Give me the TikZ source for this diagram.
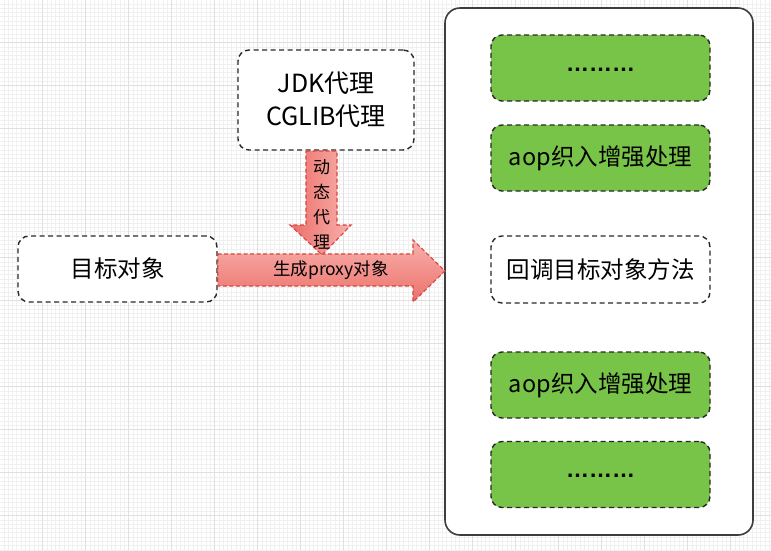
\documentclass[tikz,border=0pt]{standalone}
\usepackage{fontspec}
\setmainfont{Noto Sans CJK SC}
\newfontfamily\latinfont{Liberation Sans}
\definecolor{gridminor}{RGB}{240,240,240}
\definecolor{gridmajor}{RGB}{224,224,224}
\definecolor{boxline}{RGB}{40,40,40}
\definecolor{greenfill}{RGB}{120,196,72}
\definecolor{arrowline}{RGB}{214,70,64}
\definecolor{arrowdark}{RGB}{236,112,106}
\definecolor{arrowlight}{RGB}{248,176,172}
\tikzset{
  dbox/.style={draw=boxline, line width=1.4pt, dash pattern=on 5pt off 3.5pt, rounded corners=11pt, align=center, inner sep=0pt},
  gbox/.style={dbox, fill=greenfill, minimum width=219pt, minimum height=66pt},
  wbox/.style={dbox, fill=white},
  arrowshape/.style={draw=arrowline, line width=1.1pt, dash pattern=on 4pt off 2.5pt, line join=miter},
  lbl/.style={font=\fontsize{17.5pt}{21pt}\selectfont, inner sep=0pt},
  big/.style={font=\fontsize{25pt}{33pt}\selectfont},
  mid/.style={font=\fontsize{23.5pt}{28pt}\selectfont},
  dots/.style={font=\latinfont\bfseries\fontsize{23pt}{28pt}\selectfont}
}
\begin{document}
\begin{tikzpicture}[x=1pt,y=-1pt]
\useasboundingbox (0,0) rectangle (771,550);
\fill[white] (0,0) rectangle (771,550);
% grid
\foreach \i in {0,...,180} {
  \draw[gridminor, line width=0.5pt] ({\i*4.3-0.5},0) -- ({\i*4.3-0.5},550);
}
\foreach \i in {0,...,128} {
  \draw[gridminor, line width=0.5pt] (0,{\i*4.3-0.5}) -- (771,{\i*4.3-0.5});
}
\foreach \i in {0,...,18} {
  \draw[gridmajor, line width=0.7pt] ({\i*43-0.5},0) -- ({\i*43-0.5},550);
}
\foreach \i in {0,...,12} {
  \draw[gridmajor, line width=0.7pt] (0,{\i*43-0.5}) -- (771,{\i*43-0.5});
}
% container
\node[draw=boxline!90, line width=1.6pt, rounded corners=15pt, fill=white,
      minimum width=308pt, minimum height=527pt, inner sep=0pt] (container) at (599,271.5) {};
% left boxes
\node[wbox, big, minimum width=176pt, minimum height=100pt] (jdk) at (326,100) {JDK代理\\CGLIB代理};
\node[wbox, mid, minimum width=199pt, minimum height=66pt] (target) at (117.5,269) {目标对象};
% right stack
\node[gbox, dots] (g1) at (600.5,68) {\raisebox{-6pt}{………}};
\node[gbox, mid] (g2) at (600.5,158) {aop织入增强处理};
\node[wbox, mid, minimum width=219pt, minimum height=67pt] (cb) at (600.5,269.5) {回调目标对象方法};
\node[gbox, mid] (g4) at (600.5,385) {aop织入增强处理};
\node[gbox, dots] (g5) at (600.5,474.5) {\raisebox{-6pt}{………}};
% down arrow (dynamic proxy)
\coordinate (dtip) at (322,255);
\draw[arrowshape, left color=arrowdark, right color=arrowlight]
  (306,151) -- (337,151) -- (337,225) -- (351,225) -- (dtip) -- (290,225) -- (306,225) -- cycle;
\node[lbl, align=center, font=\fontsize{17pt}{25pt}\selectfont] (dlabel) at (321.5,204.5) {动\\态\\代\\理};
% right arrow (generate proxy)
\coordinate (rtip) at (445,271);
\draw[arrowshape, top color=arrowlight, bottom color=arrowdark]
  (target.east |- 0,254) -- (413,254) -- (413,240) -- (rtip) -- (413,302) -- (413,286) -- (target.east |- 0,286) -- cycle;
\node[lbl] (rlabel) at (331,270) {生成proxy对象};
\end{tikzpicture}
\end{document}
